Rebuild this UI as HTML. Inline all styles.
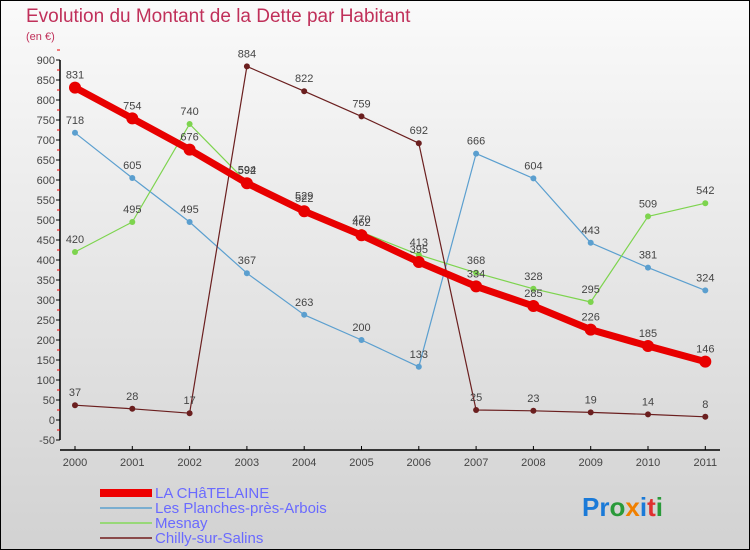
<!DOCTYPE html>
<html><head><meta charset="utf-8"><style>
body{margin:0}
#c{width:750px;height:550px;position:relative;box-sizing:border-box;border:1px solid #000;background:linear-gradient(#fafafa,#d2d2d2);font-family:"Liberation Sans",sans-serif;overflow:hidden}
</style></head><body>
<div id="c">
<svg id="s" width="750" height="550" style="position:absolute;left:-1px;top:-1px">
<text x="26" y="22" font-size="19" fill="#c0305a">Evolution du Montant de la Dette par Habitant</text>
<text x="26" y="40" font-size="11" fill="#c0305a">(en €)</text>
<g id="axes"></g><g id="series"></g>
<g>
<rect x="100" y="489" width="52" height="8" fill="#e00"/>
<text x="155" y="498" font-size="15" fill="#6a6aff">LA CHâTELAINE</text>
<rect x="100" y="507" width="52" height="2" fill="#7aaed0"/>
<text x="155" y="513" font-size="15" fill="#6a6aff">Les Planches-près-Arbois</text>
<rect x="100" y="522" width="52" height="2" fill="#98d878"/>
<text x="155" y="528" font-size="15" fill="#6a6aff">Mesnay</text>
<rect x="100" y="537" width="52" height="2" fill="#8a4a4a"/>
<text x="155" y="543" font-size="15" fill="#6a6aff">Chilly-sur-Salins</text>
</g>
<text x="582" y="516" font-size="26" font-weight="bold"><tspan fill="#1a7ad8">Pr</tspan><tspan fill="#2a9a3a">o</tspan><tspan fill="#f08000">x</tspan><tspan fill="#1a7ad8">i</tspan><tspan fill="#e03030">t</tspan><tspan fill="#2a9a3a">i</tspan></text>
</svg></div>
<script>
const years=[2000,2001,2002,2003,2004,2005,2006,2007,2008,2009,2010,2011];
const chatelaine=[831,754,676,592,522,462,395,334,285,226,185,146];
const planches=[718,605,495,367,263,200,133,666,604,443,381,324];
const mesnay=[420,495,740,594,529,470,413,368,328,295,509,542];
const chilly=[37,28,17,884,822,759,692,25,23,19,14,8];
const yTicks=[-50,0,50,100,150,200,250,300,350,400,450,500,550,600,650,700,750,800,850,900];
const NS="http://www.w3.org/2000/svg";
const X=i=>75+i*57.3, Y=v=>420-v*0.4;
function mk(t,a,p){const e=document.createElementNS(NS,t);for(const k in a)e.setAttribute(k,a[k]);p.appendChild(e);return e;}
const ax=document.getElementById('axes'),se=document.getElementById('series');
mk('line',{x1:60,y1:Y(900),x2:60,y2:Y(-50),stroke:'#000','stroke-width':1.5},ax);
mk('line',{x1:60,y1:450,x2:720,y2:450,stroke:'#000','stroke-width':1.5},ax);
yTicks.forEach(v=>{
 const l=mk('line',{x1:56,y1:Y(v),x2:60,y2:Y(v),stroke:'#000'},ax);
 
 mk('line',{x1:57,y1:Y(v+25),x2:60,y2:Y(v+25),stroke:'#e00'},ax);
 const t=mk('text',{x:55,y:Y(v)+4,'font-size':11,fill:'#444','text-anchor':'end'},ax);
 t.textContent=v;
 
});
years.forEach((y,i)=>{
 mk('line',{x1:X(i),y1:446,x2:X(i),y2:450,stroke:'#000'},ax);
 const t=mk('text',{x:X(i),y:466,'font-size':11,fill:'#444','text-anchor':'middle'},ax);
 t.textContent=y;
 
});
function series(name,vals,col,w,r){
 const g=mk('g',{},se);
 
 mk('polyline',{points:vals.map((v,i)=>X(i)+','+Y(v)).join(' '),fill:'none',stroke:col,'stroke-width':w,'stroke-linejoin':'round'},g);
 vals.forEach((v,i)=>{
  const c=mk('circle',{cx:X(i),cy:Y(v),r:r,fill:col},g);
  
  const t=mk('text',{x:X(i),y:Y(v)-9,'font-size':11,fill:'#444','text-anchor':'middle'},g);
  t.textContent=v;
  
 });
}
series('planches',planches,'#5b9fcf',1.2,3);
series('mesnay',mesnay,'#7dd44e',1.2,3);
series('chilly',chilly,'#6b1f1f',1.2,3);
series('chatelaine',chatelaine,'#e80000',7,6);
</script>
</body></html>
